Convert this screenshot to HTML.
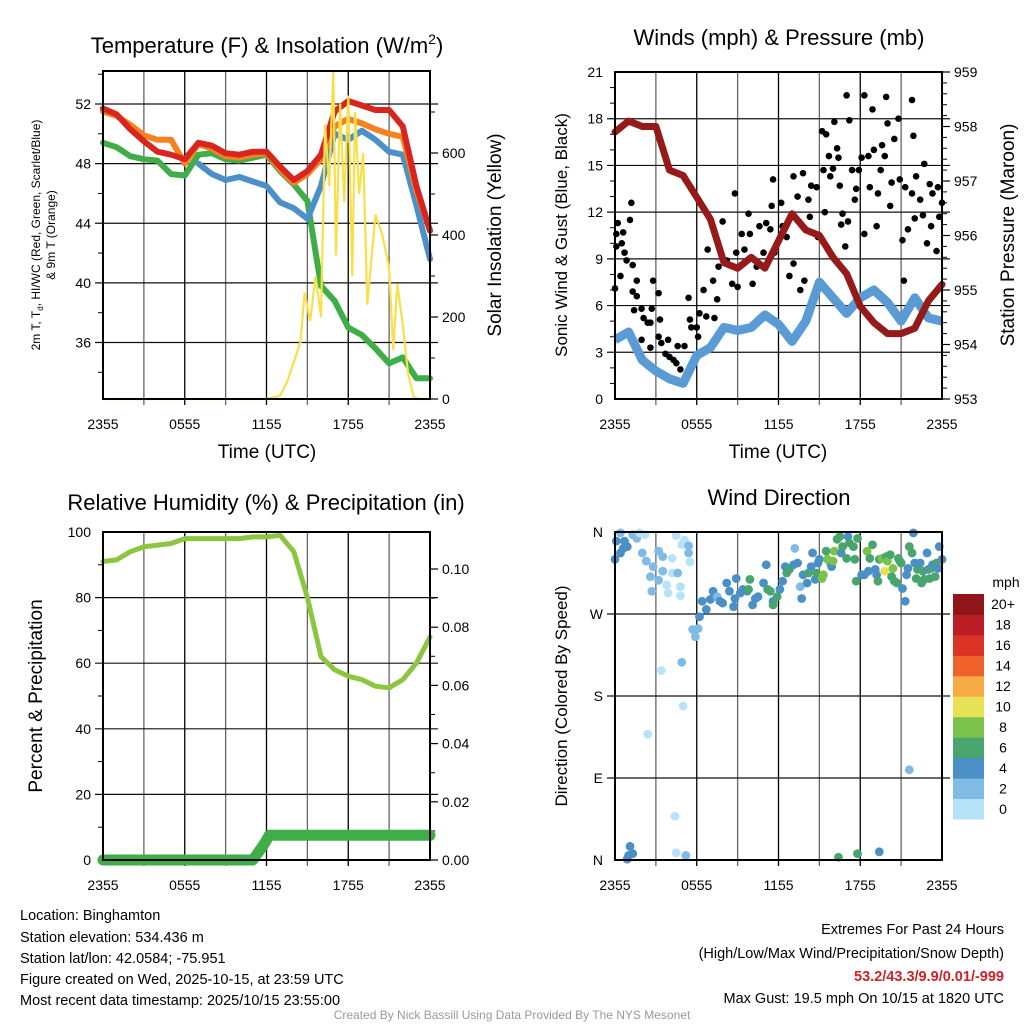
<!DOCTYPE html>
<html><head><meta charset="utf-8">
<style>
html,body{margin:0;padding:0;background:#fff;}
svg{display:block;font-family:"Liberation Sans",Arial,sans-serif;}
</style></head>
<body>
<svg id="svg" width="1024" height="1024" viewBox="0 0 1024 1024" xmlns="http://www.w3.org/2000/svg">
<rect width="1024" height="1024" fill="#fff"/>
<g font-size="22" text-anchor="middle" fill="#000">
<text x="267" y="53">Temperature (F) &amp; Insolation (W/m<tspan font-size="14" dy="-9">2</tspan><tspan dy="9">)</tspan></text>
<text x="779" y="45">Winds (mph) &amp; Pressure (mb)</text>
<text x="266" y="510">Relative Humidity (%) &amp; Precipitation (in)</text>
<text x="779" y="505">Wind Direction</text>
</g>
<g font-size="14.5" fill="#000">
<text x="20" y="920">Location: Binghamton</text>
<text x="20" y="942">Station elevation: 534.436 m</text>
<text x="20" y="963">Station lat/lon: 42.0584; -75.951</text>
<text x="20" y="984">Figure created on Wed, 2025-10-15, at 23:59 UTC</text>
<text x="20" y="1005">Most recent data timestamp: 2025/10/15 23:55:00</text>
<text x="1004" y="934" text-anchor="end">Extremes For Past 24 Hours</text>
<text x="1004" y="958" text-anchor="end">(High/Low/Max Wind/Precipitation/Snow Depth)</text>
<text x="1004" y="981" text-anchor="end" fill="#cc2229" font-weight="bold">53.2/43.3/9.9/0.01/-999</text>
<text x="1004" y="1003" text-anchor="end">Max Gust: 19.5 mph On 10/15 at 1820 UTC</text>
<text x="512" y="1019" text-anchor="middle" font-size="12" fill="#999">Created By Nick Bassill Using Data Provided By The NYS Mesonet</text>
</g>
</svg>
<script>
// ---------- data ----------
const timeTicks = ["2355","0555","1155","1755","2355"];
const hours = [0,1,2,3,4,5,6,7,8,9,10,11,12,13,14,15,16,17,18,19,20,21,22,23,24];
const tempRed = [51.7,51.3,50.3,49.5,48.8,48.6,48.3,49.4,49.2,48.7,48.6,48.8,48.8,47.8,46.9,47.5,48.6,51.5,52.2,51.9,51.6,51.6,50.5,46.5,43.5];
const tempOrange = [51.5,51.2,50.6,49.9,49.6,49.6,48.0,49.3,49.0,48.5,48.4,48.6,48.7,47.6,46.7,47.3,48.3,50.5,51.0,50.7,50.3,50.0,49.8,46.2,43.5];
const tempGreen = [49.4,49.1,48.5,48.3,48.2,47.3,47.2,48.6,48.7,48.3,48.2,48.4,48.6,47.5,46.6,45.5,39.8,38.8,37.0,36.5,35.6,34.6,35.0,33.6,33.6];
const tempBlue = [null,50.0,null,null,null,null,null,48.0,47.3,46.9,47.1,46.8,46.5,45.4,45.0,44.3,46.5,50.0,49.6,50.2,49.6,48.8,48.6,45.2,41.6];
const solarHours = [0,12,13,13.5,14,14.5,14.8,15.2,15.6,16,16.3,16.6,16.9,17.1,17.4,17.7,18,18.3,18.5,18.8,19.1,19.4,20,20.5,21,21.3,21.6,22,22.4,22.8,23.2,24];
const solarVals = [0,0,8,40,90,140,260,190,300,200,670,520,800,350,720,480,740,300,700,500,600,230,450,400,320,120,280,180,60,5,0,0];
const tempTicks = [36,40,44,48,52];
const solarTicks = [0,200,400,600];

const windSpeed = [3.8,4.3,2.5,1.8,1.3,1.0,2.8,3.3,4.6,4.4,4.6,5.4,4.8,3.7,5.0,7.5,6.5,5.5,6.5,7.0,6.2,5.0,6.5,5.2,5.0];
const pressure = [957.9,958.1,958.0,958.0,957.2,957.1,956.7,956.3,955.5,955.4,955.6,955.4,955.9,956.4,956.1,956.0,955.6,955.3,954.7,954.4,954.2,954.2,954.3,954.8,955.1];
const gustHours = [0,0.1,0.2,0.1,0.5,0.6,0.7,0.85,1.1,1.2,0.4,1.3,1.3,1.6,1.6,1.4,1.95,2.1,2.4,2.6,2.7,2.8,2.6,1.95,3.2,3.3,3.2,3.4,3.7,3.9,4.0,4.3,4.5,4.8,4.6,5.1,5.4,5.5,5.6,6.0,6.1,6.2,6.5,6.7,6.8,7.2,7.3,7.5,7.6,7.9,8.2,8.6,8.8,8.9,9.0,9.3,9.5,9.8,9.9,10.1,10.4,10.6,10.9,11.1,11.4,11.6,11.5,11.7,12.2,12.3,12.6,12.8,13.1,13.1,13.4,13.6,13.8,13.9,14.2,14.3,14.4,14.8,14.9,15.2,15.3,15.4,15.5,15.7,15.8,16.0,16.1,16.3,16.4,16.5,16.6,16.7,16.9,17.0,17.2,17.1,17.4,17.6,17.7,17.9,18.1,18.3,18.3,18.6,18.7,18.9,19.0,19.2,19.3,19.5,19.6,19.8,19.9,20.0,20.2,20.3,20.5,20.8,20.9,21.1,21.3,21.5,21.8,21.8,21.9,22.0,22.1,22.4,22.6,22.7,22.9,23.1,23.2,23.3,23.6,23.7,23.8,24.0,21.2];
const gustVals = [7.1,10.6,11.3,9.8,10.0,10.7,9.4,8.9,11.5,12.6,7.9,8.6,6.9,7.6,6.6,5.7,5.8,5.2,4.9,4.9,5.8,7.6,3.3,3.8,6.8,5.1,4.0,3.6,2.9,3.8,2.7,2.5,2.3,1.9,3.4,3.4,6.5,5.1,4.6,4.6,4.0,5.5,7.0,5.3,9.6,7.6,5.2,6.4,8.5,11.4,8.9,7.4,13.2,9.4,7.2,10.6,9.6,11.9,10.6,7.4,8.5,11.1,9.4,11.3,10.9,14.1,12.4,9.4,12.6,11.1,10.4,7.9,14.3,8.7,13.0,7.0,14.5,7.6,12.8,11.7,13.7,13.6,10.4,17.2,14.7,12.0,17.0,15.6,14.3,14.8,17.8,16.1,15.5,13.7,11.2,11.9,9.8,19.5,17.9,11.4,14.7,12.8,13.5,14.7,15.5,19.5,10.6,15.6,13.6,18.6,16.0,11.1,13.2,14.7,16.3,15.6,19.4,17.7,12.4,13.9,16.7,18.0,14.1,10.2,13.6,10.9,19.2,13.2,16.9,11.6,14.3,12.8,11.8,15.1,10.0,13.8,11.1,13.2,9.5,13.6,11.7,12.6,7.6];
const windTicks = [0,3,6,9,12,15,18,21];
const pressTicks = [953,954,955,956,957,958,959];

const rhVals = [91,91.5,94,95.5,96,96.5,98,98,98,98,98,98.5,98.5,99,94,80,62,58,56,55,53,52.5,55,60,68];
const precipHours = [0,11,11.3,11.6,11.9,12.2,24];
const precipVals = [0,0,0.002,0.004,0.006,0.0085,0.0085];
const rhTicks = [0,20,40,60,80,100];
const precipTicks = ["0.00","0.02","0.04","0.06","0.08","0.10"];

const dirHours = [
0.1,0,0.4,0.6,0.7,0.9,0.4,1.3,1.6,1.8,
2.2,2.0,2.3,2.8,2.6,2.7,3.2,3.2,3.5,3.5,
3.8,3.9,4.2,4.2,4.5,4.9,5.1,5.4,5.4,5.5,
4.6,4.8,4.8,2.4,3.4,4.9,5.0,4.4,4.5,5.2,
1.0,1.1,1.3,0.9,
5.7,5.9,6.1,6.2,6.4,6.7,7.0,7.2,7.5,7.7,
7.9,8.2,8.4,8.7,8.9,8.8,9.2,9.4,9.7,9.9,
9.8,10.1,10.3,10.5,10.9,11.1,11.2,11.4,11.6,11.6,
11.9,12.1,12.3,12.5,12.6,12.8,13.1,13.4,13.6,13.7,
13.8,14.1,14.2,14.4,14.5,14.7,14.8,14.9,15.0,15.2,
15.3,15.5,15.6,15.8,15.9,16.0,16.1,16.3,16.5,16.6,
16.7,17.0,17.1,17.2,17.5,17.6,17.7,17.8,18.1,18.3,
18.5,18.6,18.7,18.9,19.1,19.2,19.3,19.4,19.6,19.8,
19.9,20.0,20.2,20.3,20.4,20.5,20.7,20.8,20.9,21.0,
21.1,21.3,21.4,21.5,21.6,21.8,21.9,22.0,22.1,22.2,
22.4,22.5,22.6,22.7,22.9,23.0,23.1,23.2,23.3,23.5,
23.6,23.7,23.8,24.0,13.2,21.6,16.4,17.8,19.4];
const dirDeg = [
350,330,337,342,350,344,359,357,353,359,
357,337,328,322,311,295,339,307,333,317,
302,293,331,315,356,346,351,345,337,327,
315,300,290,138,208,217,169,48,8,5,
5,15,7,1,
253,245,254,267,284,275,286,295,289,284,
282,304,295,278,309,287,293,297,295,308,
297,280,287,289,304,324,297,295,284,280,
289,297,306,322,315,319,324,326,300,287,
313,304,315,322,337,308,315,326,330,309,
313,339,330,326,322,328,339,352,355,337,
344,331,355,348,344,330,306,353,313,313,
339,317,331,346,319,313,306,330,331,317,
333,328,335,311,320,306,304,331,328,326,
298,284,313,320,344,337,359,326,309,319,
326,304,317,308,337,319,309,320,324,311,
326,320,344,330,342,99,3,7,9];
const dirSpd = [
5,5,5,5,5,5,3,3,3,1,
1,3,3,3,3,3,3,3,3,3,
1,1,1,1,1,1,1,3,3,1,
3,1,1,1,1,3,1,1,1,3,
5,5,5,5,
3,3,3,5,5,5,5,5,3,5,
5,5,5,5,5,5,5,5,5,7,
7,5,5,5,5,5,7,7,5,7,
7,5,5,5,7,7,5,5,3,5,
5,5,7,5,5,5,7,5,5,9,
9,7,9,9,5,9,9,7,7,5,
7,7,5,7,7,7,7,7,5,5,
9,5,7,7,5,5,7,7,9,11,
7,9,7,7,9,7,7,7,7,7,
5,5,5,5,7,7,5,5,7,7,
5,7,7,7,5,5,7,7,5,7,
7,5,5,5,3,3,7,7,5];
const dirTicks = ["N","E","S","W","N"];
const speedLabels = ["0","2","4","6","8","10","12","14","16","18","20+"];
const speedColors = ["#b6e3f8","#7fbbe5","#4a8fc6","#48a56e","#7bc24b","#e7e255","#f7ab45","#f0622c","#dc3327","#ba1d24","#8f1519"];

// ---------- helpers ----------
const NS = "http://www.w3.org/2000/svg";
const svg = document.getElementById("svg");
function mk(tag, attrs, parent){
  const e = document.createElementNS(NS, tag);
  for (const k in attrs) e.setAttribute(k, attrs[k]);
  (parent||svg).appendChild(e);
  return e;
}
function lin(d0,d1,r0,r1){ return v => r0 + (v-d0)/(d1-d0)*(r1-r0); }
function pathFrom(xsArr, ysArr, xf, yf){
  let d = "", pen = false;
  for (let i=0;i<xsArr.length;i++){
    if (ysArr[i]===null){ pen=false; continue; }
    d += (pen?"L":"M") + xf(xsArr[i]).toFixed(1) + "," + yf(ysArr[i]).toFixed(1);
    pen = true;
  }
  return d;
}
function grid(g, L,R,T,B, ny, nx){
  for (let i=1;i<nx;i++){
    const x = L + i*(R-L)/nx;
    const ln = mk("line",{x1:x,x2:x,y1:T,y2:B+6,stroke:i%2?"#666":"#000","stroke-width":1.3},g);
    
    
  }
  ny.forEach(y=>{
    const ln = mk("line",{x1:L-8,x2:R+8,y1:y,y2:y,stroke:"#111","stroke-width":1.2},g);
    
    
  });
}
function frame(g,L,R,T,B){
  const r = mk("rect",{x:L,y:T,width:R-L,height:B-T,fill:"none",stroke:"#000","stroke-width":2},g);
  
  
}
function xLabels(g,L,R,y){
  timeTicks.forEach((t,i)=>{
    const tx = mk("text",{x:L+i*(R-L)/4,y:y,"font-size":14,"text-anchor":"middle"},g);
    tx.textContent=t;
    
    
  });
}
function yLabel(g,x,y,txt,anchor,size){
  const t = mk("text",{x:x,y:y+5,"font-size":size||14,"text-anchor":anchor},g);
  t.textContent = txt;
  
  
}
function rotText(g,x,y,txt,size,name){
  const t = mk("text",{x:0,y:0,"font-size":size,"text-anchor":"middle",transform:`translate(${x},${y}) rotate(-90)`},g);
  t.textContent = txt;
  
  
  return t;
}
function minorTicks(g, x, ys, dir){
  ys.forEach(y=>{
    const ln = mk("line",{x1:x,x2:x+dir*5,y1:y,y2:y,stroke:"#000","stroke-width":1},g);
    
    
  });
}

// ---------- Panel 1: temperature ----------
(function(){
  const L=103,R=430,T=71,B=399;
  const g = mk("g",{});
  
  
  const x = lin(0,24,L,R), y = lin(52,36,104,342.5), ys = lin(0,600,399,153);
  grid(g,L,R,T,B,tempTicks.map(y),8);
  const mn=[]; for(let v=34;v<=54;v+=2) if(v%4) mn.push(y(v)); minorTicks(g,L,mn,-1);
  const ms=[]; for(let v=100;v<=800;v+=200) ms.push(ys(v)); minorTicks(g,R,ms,1);
  solarTicks.forEach(v=>{ const ln=mk("line",{x1:R,x2:R+8,y1:ys(v),y2:ys(v),stroke:"#000","stroke-width":1.2},g);
      });
  const series = [[tempGreen,"#3fae49","dewpoint-line"],[tempBlue,"#4b90c9","windchill-line"],[tempOrange,"#f58220","temp-9m-line"],[tempRed,"#d7261f","temp-2m-line"]];
  series.forEach(s=>{
    const p = mk("path",{d:pathFrom(hours,s[0],x,y),fill:"none",stroke:s[1],"stroke-width":6,"stroke-linejoin":"round","stroke-linecap":"round"},g);
    
    
  });
  const sp = mk("path",{d:pathFrom(solarHours,solarVals,x,ys),fill:"none",stroke:"#f9df4a","stroke-width":2.2},g);
  
  
  frame(g,L,R,T,B);
  tempTicks.forEach(v=>yLabel(g,L-12,y(v),String(v),"end"));
  solarTicks.forEach(v=>yLabel(g,R+12,ys(v),String(v),"start"));
  xLabels(g,L,R,429);
  const xt = mk("text",{x:267,y:458,"font-size":19,"text-anchor":"middle"},g);
  xt.textContent="Time (UTC)";
  
  
  const t1 = mk("text",{x:0,y:0,"font-size":12,"text-anchor":"middle",transform:"translate(40,235) rotate(-90)"},g);
  t1.innerHTML = '2m T, T<tspan font-size="8" dy="3">d</tspan><tspan dy="-3">, HI/WC (Red, Green, Scarlet/Blue)</tspan>';
  
  
  rotText(g,55,235,"& 9m T (Orange)",12,"temperature-axis-title-line2");
  rotText(g,501,235,"Solar Insolation (Yellow)",19,"solar-axis-title");
})();

// ---------- Panel 2: winds ----------
(function(){
  const L=615,R=942,T=72,B=399;
  const g = mk("g",{});
  
  
  const x = lin(0,24,L,R), y = lin(0,21,B,T), yp = lin(953,959,B,T);
  grid(g,L,R,T,B,windTicks.slice(1,-1).map(y),8);
  const mn=[]; for(let v=1;v<21;v++) if(v%3) mn.push(y(v)); minorTicks(g,L,mn,-1);
  const mp=[]; for(let v=953.2;v<959;v+=0.2) mp.push(yp(v)); minorTicks(g,R,mp,1);
  pressTicks.forEach(v=>{ const ln=mk("line",{x1:R,x2:R+8,y1:yp(v),y2:yp(v),stroke:"#000","stroke-width":1.2},g);
      });
  const wp = mk("path",{d:pathFrom(hours,windSpeed,x,y),fill:"none",stroke:"#5b9bd5","stroke-width":9,"stroke-linejoin":"round"},g);
  
  
  gustHours.forEach((h,i)=>{
    const c = mk("circle",{cx:x(h),cy:y(gustVals[i]),r:3.3,fill:"#000"},g);
    
    
  });
  const pp = mk("path",{d:pathFrom(hours,pressure,x,yp),fill:"none",stroke:"#961a1a","stroke-width":7,"stroke-linejoin":"round","stroke-linecap":"round"},g);
  
  
  frame(g,L,R,T,B);
  windTicks.forEach(v=>yLabel(g,L-12,y(v),String(v),"end"));
  pressTicks.forEach(v=>yLabel(g,R+12,yp(v),String(v),"start"));
  xLabels(g,L,R,429);
  const xt = mk("text",{x:778,y:458,"font-size":19,"text-anchor":"middle"},g);
  xt.textContent="Time (UTC)";
  
  
  rotText(g,567,235,"Sonic Wind & Gust (Blue, Black)",17,"wind-axis-title");
  rotText(g,1014,235,"Station Pressure (Maroon)",19,"pressure-axis-title");
})();

// ---------- Panel 3: humidity ----------
(function(){
  const L=103,R=430,T=532,B=860;
  const g = mk("g",{});
  
  
  const x = lin(0,24,L,R), y = lin(0,100,B,T), yp = lin(0,0.1,B,569);
  grid(g,L,R,T,B,rhTicks.slice(1,-1).map(y),8);
  const mn=[]; for(let v=10;v<100;v+=20) mn.push(y(v)); minorTicks(g,L,mn,-1);
  const mp=[]; for(let v=0.01;v<0.11;v+=0.02) mp.push(yp(v)); minorTicks(g,R,mp,1);
  precipTicks.forEach(v=>{ const ln=mk("line",{x1:R,x2:R+8,y1:yp(+v),y2:yp(+v),stroke:"#000","stroke-width":1.2},g);
      });
  const rp = mk("path",{d:pathFrom(hours,rhVals,x,y),fill:"none",stroke:"#8cc63f","stroke-width":5,"stroke-linejoin":"round","stroke-linecap":"round"},g);
  
  
  const pr = mk("path",{d:pathFrom(precipHours,precipVals,x,yp),fill:"none",stroke:"#3fae49","stroke-width":11,"stroke-linejoin":"round","stroke-linecap":"round"},g);
  
  
  frame(g,L,R,T,B);
  rhTicks.forEach(v=>yLabel(g,L-12,y(v),String(v),"end"));
  precipTicks.forEach(v=>yLabel(g,R+12,yp(+v),v,"start"));
  xLabels(g,L,R,890);
  rotText(g,42,696,"Percent & Precipitation",19,"humidity-axis-title");
})();

// ---------- Panel 4: wind direction ----------
(function(){
  const L=615,R=942,T=532,B=860;
  const g = mk("g",{});
  
  
  const x = lin(0,24,L,R), y = lin(0,360,B,T);
  grid(g,L,R,T,B,[90,180,270].map(y),8);
  dirHours.forEach((h,i)=>{
    const s = dirSpd[i]===undefined?3:dirSpd[i];
    const ci = Math.min(10,Math.floor(s/2));
    const c = mk("circle",{cx:x(h),cy:y(dirDeg[i]),r:4.4,fill:speedColors[ci]},g);
    
    
  });
  frame(g,L,R,T,B);
  dirTicks.forEach((t,i)=>yLabel(g,L-12,y(i*90),t,"end"));
  xLabels(g,L,R,890);
  rotText(g,567,696,"Direction (Colored By Speed)",17,"direction-axis-title");
  const cb = mk("g",{},g);
  
  
  const cT=594, cH=225/11;
  speedColors.forEach((c,i)=>{
    const yy = cT + (10-i)*cH;
    const r = mk("rect",{x:953,y:yy,width:31,height:cH+0.5,fill:c},cb);
    
    
    const t = mk("text",{x:1003,y:yy+cH/2+5,"font-size":14,"text-anchor":"middle"},cb);
    t.textContent = speedLabels[i];
    
    
  });
  const u = mk("text",{x:1006,y:587,"font-size":14,"text-anchor":"middle"},cb);
  u.textContent="mph";
  
  
})();
</script>
</body></html>
